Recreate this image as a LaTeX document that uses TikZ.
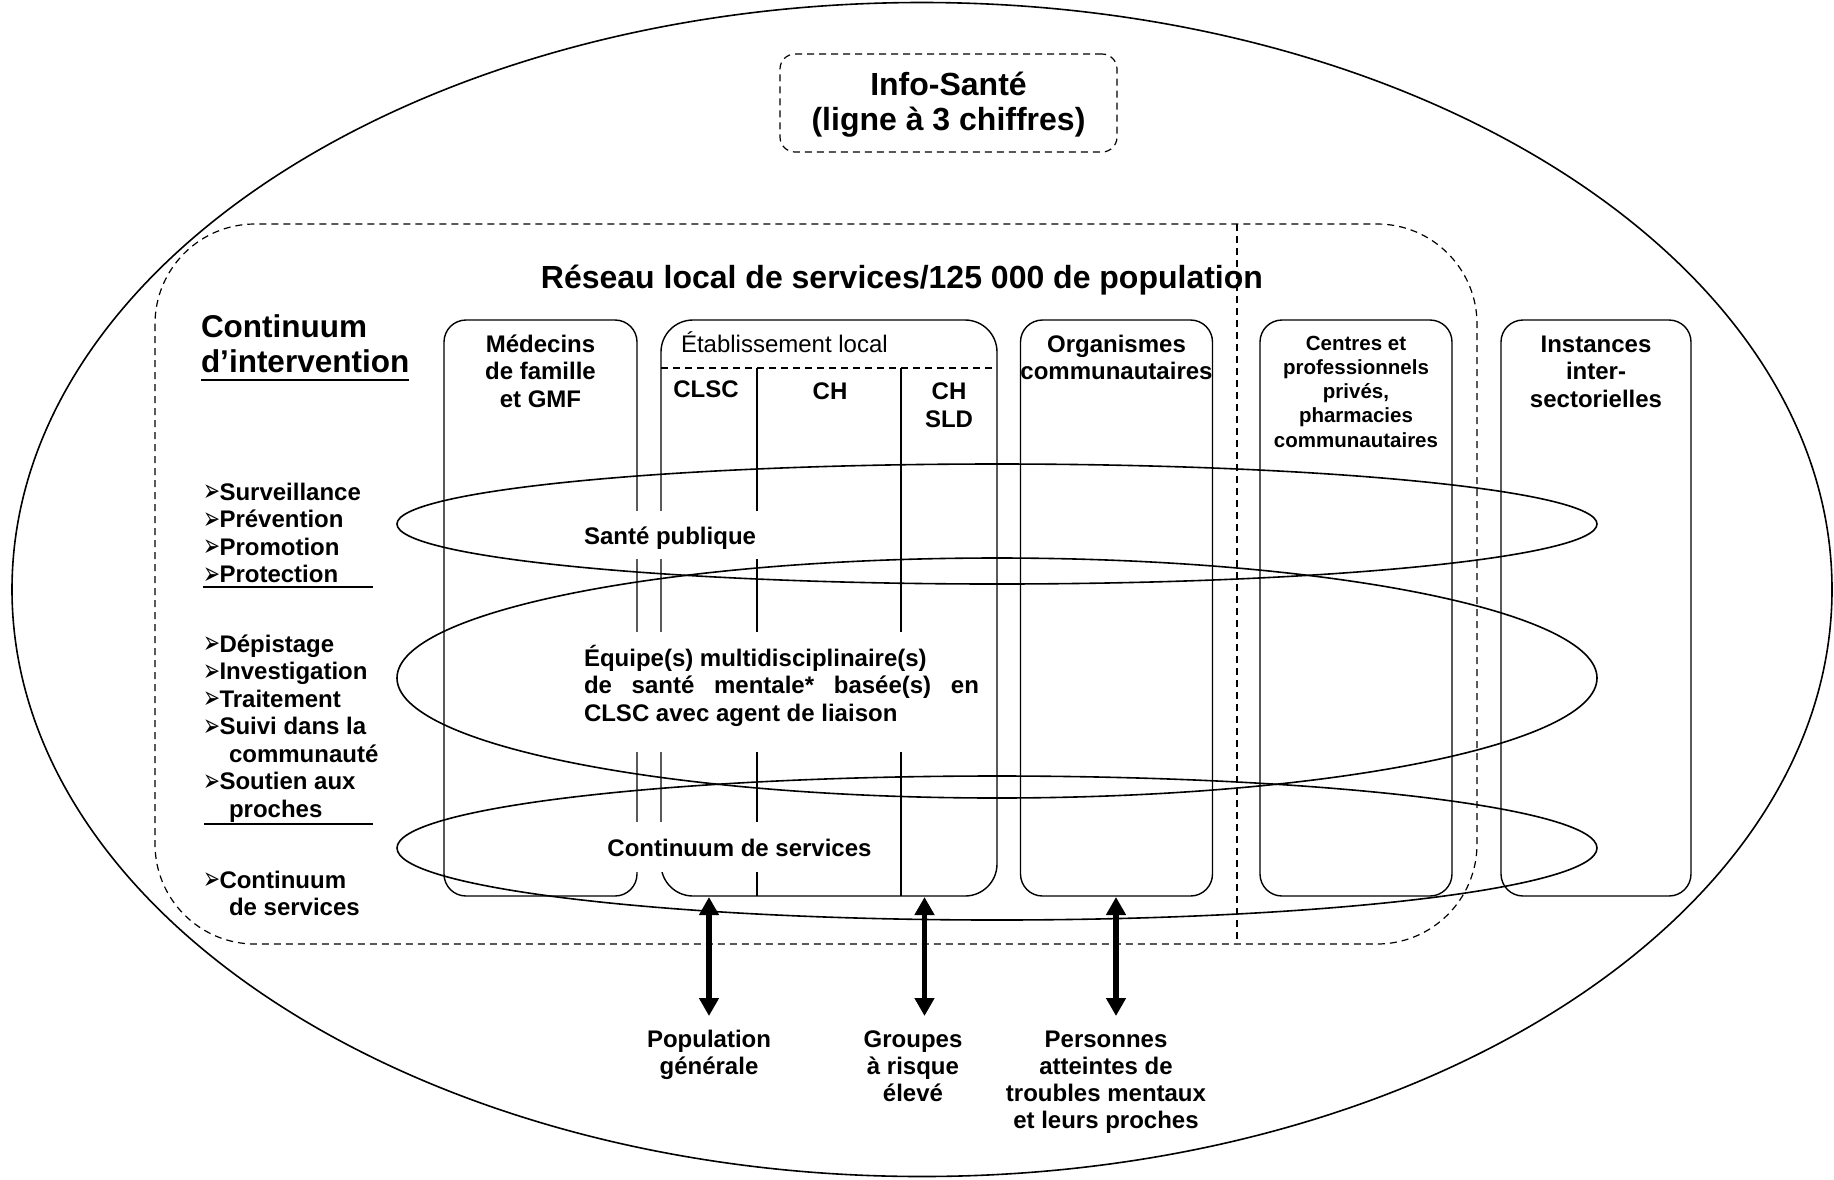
\documentclass[tikz,border=0pt]{standalone}
\usepackage{graphicx}
\usepackage{fontspec}
\setmainfont{Liberation Sans}
\newfontfamily\dejavu{DejaVu Sans}
\usetikzlibrary{arrows.meta,calc}
\newcommand\mlines[2]{\parbox[t]{#1}{\centering #2}}
\newcommand\bul{\makebox[16.5pt][l]{\smash{\raisebox{-1.5pt}{\scalebox{1}[1.55]{\resizebox{17pt}{!}{\dejavu ➢}}}}}}
\begin{document}
\begin{tikzpicture}[x=1pt,y=-1pt,
  every node/.style={inner sep=0pt,outer sep=0pt},
  col/.style={draw,line width=1.4pt,rounded corners=22pt,minimum height=576pt},
  dsh/.style={line width=1.2pt,dash pattern=on 7pt off 5pt},
  ell/.style={line width=1.6pt},
  lab/.style={font=\bfseries\fontsize{24}{27.5}\selectfont,anchor=base},
  bl/.style={font=\bfseries\fontsize{24}{27.5}\selectfont,anchor=base west},
  arr/.style={line width=5.5pt,{Triangle[length=18pt,width=19pt]}-{Triangle[length=18pt,width=19pt]}},
  ul/.style={line width=2pt}
]
\fill[white] (0,0) rectangle (1834,1179);
\useasboundingbox (0,0) rectangle (1834,1179);

% outer ellipse
\draw[line width=1.6pt] (922,589.5) ellipse [x radius=910pt, y radius=587pt];

% Info-Sante box
\node[draw,dsh,rounded corners=15pt,minimum width=337pt,minimum height=98pt] (info) at (948.5,103) {};
\node[font=\bfseries\fontsize{32}{35}\selectfont,anchor=base] (infot) at (948.5,95.5) {\mlines{330pt}{Info-Santé\\(ligne à 3 chiffres)}};

% local network dashed frame
\draw[dsh,rounded corners=100pt] (155,224) rectangle (1477,944);
\draw[dsh] (1237,224) -- (1237,944);
\node[font=\bfseries\fontsize{32}{35}\selectfont,anchor=base] (title) at (902,288) {Réseau local de services/125 000 de population};

% columns
\node[col,minimum width=193pt] (med) at (540.5,608) {};
\node[col,minimum width=336pt,rounded corners=32pt] (etab) at (829,608) {};
\node[col,minimum width=192pt] (org) at (1116.5,608) {};
\node[col,minimum width=192pt] (cen) at (1356,608) {};
\node[col,minimum width=190pt] (ins) at (1596,608) {};
\draw[dsh] (661,368) -- (997,368);
\draw[line width=1.4pt] (757,368) -- (757,896);
\draw[line width=1.4pt] (901,368) -- (901,896);

% column labels
\node[lab] (medt) at (540.5,352) {\mlines{200pt}{Médecins\\de famille\\et GMF}};
\node[font=\fontsize{24}{27.5}\selectfont,anchor=base west] (etabt) at (681,352) {Établissement local};
\node[lab] (clsc) at (706,397) {CLSC};
\node[lab] (ch) at (830,399.6) {CH};
\node[lab] (chsld) at (949,399.6) {\mlines{80pt}{CH\\SLD}};
\node[lab] (orgt) at (1116.5,352) {\mlines{200pt}{Organismes\\communautaires}};
\node[font=\bfseries\fontsize{20.5}{24.3}\selectfont,anchor=base] (cent) at (1356,350) {\mlines{200pt}{Centres et\\professionnels\\privés,\\pharmacies\\communautaires}};
\node[lab] (inst) at (1596,352) {\mlines{200pt}{Instances\\inter-\\sectorielles}};

% white masks and ellipse texts
\fill[white] (592,511) rectangle (764,559);
\fill[white] (580,632) rectangle (996,752);
\fill[white] (600,822) rectangle (898,872);
\node[bl] (sp) at (584,544) {Santé publique};
\node[bl] (eq) at (584,666) {\parbox[t]{395pt}{Équipe(s) multidisciplinaire(s)\\\makebox[395pt][s]{de santé mentale* basée(s) en}\\CLSC avec agent de liaison}};
\node[lab] (cs) at (739.5,856) {Continuum de services};

% three horizontal ellipses
\draw[ell] (997,524) ellipse [x radius=600pt, y radius=60pt];
\draw[ell] (997,678) ellipse [x radius=600pt, y radius=120pt];
\draw[ell] (997,848) ellipse [x radius=600pt, y radius=72pt];

% left column
\node[font=\bfseries\fontsize{31.5}{35}\selectfont,anchor=base west] (c1) at (201,337) {Continuum};
\node[font=\bfseries\fontsize{31.5}{35}\selectfont,anchor=base west] (c2) at (201,372) {d’intervention};
\draw[line width=2.5pt] ($(c2.base west)+(0,8)$) -- ($(c2.base east)+(0,8)$);

\node[bl] (b1) at (203,500) {\bul Surveillance};
\node[bl] (b2) at (203,527.5) {\bul Prévention};
\node[bl] (b3) at (203,555) {\bul Promotion};
\node[bl] (b4) at (203,582.5) {\bul Protection};
\coordinate (u1a) at (203,587); \coordinate (u1b) at (373,587);
\draw[ul] (u1a) -- (u1b);
\node[bl] (b5) at (203,652) {\bul Dépistage};
\node[bl] (b6) at (203,679.5) {\bul Investigation};
\node[bl] (b7) at (203,707) {\bul Traitement};
\node[bl] (b8) at (203,734.5) {\bul Suivi dans la};
\node[bl] (b9) at (229,762) {communauté};
\node[bl] (b10) at (203,789.5) {\bul Soutien aux};
\node[bl] (b11) at (229,817) {proches};
\coordinate (u2a) at (204,824); \coordinate (u2b) at (373,824);
\draw[ul] (u2a) -- (u2b);
\node[bl] (b12) at (203,888) {\bul Continuum};
\node[bl] (b13) at (229,915) {de services};

% arrows
\coordinate (a1t) at (709,897); \coordinate (a1b) at (709,1016);
\coordinate (a2t) at (924.5,897); \coordinate (a2b) at (924.5,1016);
\coordinate (a3t) at (1116,897); \coordinate (a3b) at (1116,1016);
\draw[arr] (a1t) -- (a1b);
\draw[arr] (a2t) -- (a2b);
\draw[arr] (a3t) -- (a3b);

% bottom labels
\node[font=\bfseries\fontsize{24}{27}\selectfont,anchor=base] (pg) at (709,1047) {\mlines{200pt}{Population\\générale}};
\node[font=\bfseries\fontsize{24}{27}\selectfont,anchor=base] (gr) at (913,1047) {\mlines{200pt}{Groupes\\à risque\\élevé}};
\node[font=\bfseries\fontsize{24}{27}\selectfont,anchor=base] (pe) at (1106,1047) {\mlines{240pt}{Personnes\\atteintes de\\troubles mentaux\\et leurs proches}};
\end{tikzpicture}
\end{document}
